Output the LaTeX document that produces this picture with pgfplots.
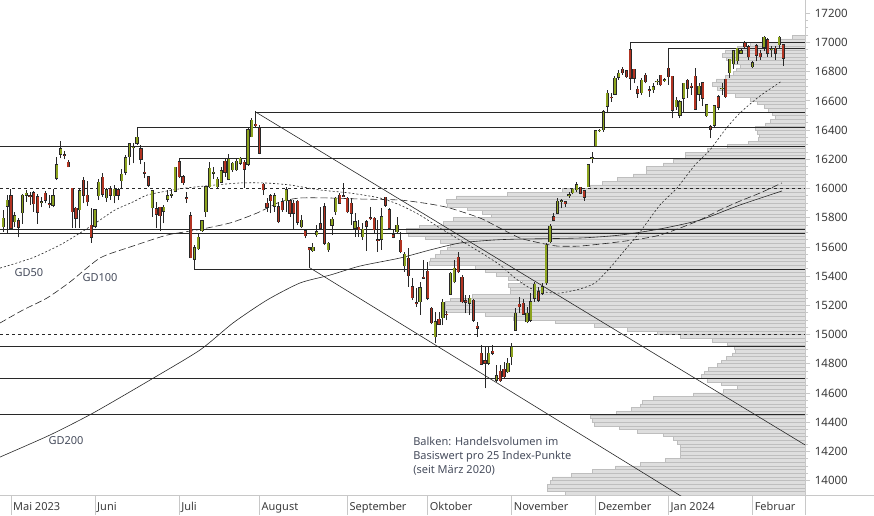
\documentclass[border=0pt]{standalone}
\usepackage{pgfplots}
\usepackage{pgfplotstable}
\pgfplotsset{compat=1.18}
\usepackage{fontspec}
\setmainfont{Noto Sans}
\definecolor{upc}{RGB}{140,163,30}
\definecolor{dnc}{RGB}{178,52,34}
\definecolor{volf}{RGB}{222,222,222}
\definecolor{vold}{RGB}{190,190,190}
\definecolor{axc}{RGB}{200,200,200}
\definecolor{lnc}{RGB}{40,40,40}
\definecolor{txc}{RGB}{60,60,60}
\definecolor{anc}{RGB}{70,76,92}

\pgfplotstableread{
n o h l c
0 15739 15853 15705 15796
1 15880 15955 15693 15921
2 15949 16000 15716 15727
3 15773 15842 15739 15812
4 15780 15796 15665 15734
5 15834 15960 15757 15955
6 15953 15990 15910 15967
7 15950 15978 15887 15945
8 15971 15985 15842 15894
9 15944 15962 15757 15837
10 15905 15944 15871 15910
11 15967 15983 15898 15921
12 15895 15956 15864 15892
13 15885 15994 15871 15949
14 16070 16218 16058 16161
15 16234 16325 16207 16271
16 16230 16259 16200 16228
17 16179 16195 16145 16150
18 16001 16001 15727 15841
19 15864 15870 15727 15796
20 15853 15995 15727 15983
21 16058 16081 15898 15955
22 15955 16054 15880 15910
23 15750 15864 15629 15666
24 15743 15857 15727 15853
25 15951 16063 15921 16042
26 16077 16108 15944 15962
27 15937 16001 15910 15990
28 15997 16015 15921 15955
29 15951 16024 15898 15994
30 15990 16001 15921 15955
31 16054 16131 15994 16097
32 16110 16229 16092 16210
33 16218 16314 16161 16305
34 16280 16309 16172 16284
35 16309 16419 16298 16350
36 16271 16298 16166 16200
37 16110 16184 16070 16104
38 16081 16081 16013 16024
39 15869 15990 15807 15983
40 15860 15910 15727 15823
41 15871 15871 15709 15814
42 15846 15887 15762 15871
43 15926 15990 15910 15949
44 15955 15997 15937 15962
45 15983 16150 15974 16145
46 16184 16207 16070 16081
47 16081 16092 16024 16040
48 15937 15974 15903 15930
49 15812 15837 15522 15526
50 15517 15613 15449 15595
51 15586 15686 15579 15666
52 15711 15784 15704 15780
53 15841 16017 15807 16013
54 16013 16184 16006 16138
55 16105 16150 16065 16112
56 16013 16081 16006 16065
57 16042 16150 16036 16120
58 16188 16207 16081 16111
59 16065 16234 16058 16202
60 16127 16184 16115 16172
61 16127 16207 16120 16188
62 16172 16218 16161 16207
63 16179 16195 16006 16131
64 16166 16412 16156 16401
65 16355 16485 16350 16469
66 16440 16528 16417 16430
67 16412 16435 16234 16241
68 16030 16036 15956 15990
69 15899 15933 15842 15871
70 15949 15963 15830 15917
71 15880 15967 15842 15949
72 15876 15910 15762 15773
73 15910 15933 15842 15853
74 15917 16013 15842 15990
75 15917 15926 15807 15830
76 15898 15921 15716 15830
77 15914 15921 15750 15768
78 15739 15819 15727 15784
79 15709 15709 15659 15677
80 15595 15595 15460 15579
81 15575 15625 15568 15597
82 15682 15750 15670 15705
83 15757 15876 15727 15727
84 15876 15899 15613 15625
85 15579 15636 15568 15625
86 15750 15807 15682 15789
87 15842 15944 15819 15933
88 15953 15967 15899 15899
89 15952 16036 15944 15946
90 15933 15944 15830 15842
91 15899 15933 15750 15830
92 15727 15830 15670 15773
93 15734 15784 15670 15716
94 15670 15761 15647 15720
95 15773 15784 15574 15743
96 15798 15876 15784 15794
97 15796 15807 15693 15716
98 15650 15784 15568 15645
99 15654 15864 15579 15807
100 15940 15944 15876 15887
101 15853 15864 15716 15727
102 15682 15716 15659 15666
103 15704 15807 15693 15750
104 15647 15704 15556 15567
105 15471 15567 15430 15549
106 15522 15590 15328 15403
107 15328 15385 15236 15252
108 15218 15316 15191 15212
109 15225 15362 15134 15321
110 15392 15510 15380 15386
111 15435 15499 15236 15248
112 15179 15191 15070 15081
113 14985 15156 14940 15088
114 15104 15156 15065 15070
115 15115 15243 15065 15220
116 15140 15161 15099 15136
117 15275 15430 15270 15419
118 15362 15510 15350 15453
119 15529 15567 15419 15430
120 15392 15408 15214 15225
121 15230 15270 15145 15222
122 15214 15270 15134 15248
123 15236 15243 15088 15099
124 15058 15088 14985 15042
125 14871 14928 14791 14796
126 14819 14917 14631 14803
127 14803 14917 14791 14871
128 14887 14928 14860 14871
129 14688 14791 14677 14718
130 14750 14791 14677 14682
131 14761 14814 14700 14711
132 14745 14837 14734 14803
133 14848 14940 14791 14917
134 15031 15179 15031 15145
135 15207 15259 15145 15191
136 15213 15243 15134 15138
137 15088 15191 15077 15145
138 15099 15282 15088 15225
139 15248 15362 15225 15344
140 15293 15328 15225 15236
141 15282 15350 15270 15328
142 15355 15625 15339 15613
143 15636 15760 15625 15743
144 15807 15830 15775 15784
145 15830 15937 15826 15914
146 15912 15926 15864 15916
147 15910 15914 15876 15894
148 15953 15974 15937 15957
149 15971 16001 15960 15994
150 15990 16042 15978 16024
151 16008 16008 15960 15967
152 15985 15985 15917 15939
153 16013 16161 16013 16161
154 16205 16252 16172 16209
155 16291 16401 16291 16396
156 16394 16405 16385 16398
157 16401 16540 16390 16526
158 16565 16675 16515 16652
159 16626 16652 16595 16622
160 16646 16772 16640 16754
161 16761 16812 16745 16789
162 16816 16835 16780 16793
163 16807 16812 16760 16766
164 16949 17003 16675 16754
165 16816 16816 16720 16754
166 16679 16700 16623 16652
167 16656 16760 16640 16743
168 16777 16789 16720 16732
169 16677 16702 16629 16673
170 16675 16720 16656 16697
171 16730 16750 16710 16734
172 16777 16780 16700 16709
173 16741 16755 16730 16745
174 16823 16960 16709 16766
175 16770 16770 16480 16537
176 16560 16629 16538 16606
177 16503 16606 16481 16594
178 16618 16720 16520 16720
179 16743 16750 16620 16686
180 16699 16720 16640 16695
181 16770 16823 16538 16542
182 16647 16720 16600 16700
183 16725 16732 16565 16617
184 16497 16578 16490 16572
185 16424 16435 16343 16405
186 16435 16570 16420 16565
187 16629 16640 16540 16556
188 16684 16720 16640 16688
189 16748 16750 16620 16629
190 16793 16890 16760 16885
191 16853 16950 16820 16944
192 16875 16965 16850 16960
193 16926 16955 16920 16942
194 16994 17010 16960 16971
195 16971 16980 16880 16903
196 16834 16870 16825 16860
197 16976 16990 16870 16914
198 16926 16950 16880 16903
199 16967 17045 16940 17035
200 17017 17030 16900 16926
201 16953 16975 16900 16957
202 16960 16975 16880 16926
203 16983 17045 16960 17035
204 16983 16990 16840 16891
}\candles

\pgfplotstableread{
p L
13900 240
13925 258
13950 258
13975 255
14000 253
14025 234
14050 213
14075 190
14100 165
14125 140
14150 125
14175 125
14200 125
14225 125
14250 128
14275 132
14300 142
14325 168
14350 186
14375 211
14400 213
14425 215
14450 189
14475 174
14500 165
14525 163
14550 152
14575 112
14600 82
14625 68
14650 84
14675 98
14700 104
14725 101
14750 97
14775 88
14800 84
14825 79
14850 73
14875 70
14900 71
14925 78
14950 93
14975 125
15000 148
15025 178
15050 211
15075 250
15100 292
15125 320
15150 360
15175 360
15200 360
15225 355
15250 333
15275 295
15300 295
15325 297
15350 283
15375 297
15400 309
15425 320
15450 330
15475 376
15500 375
15525 370
15550 365
15575 358
15600 355
15625 365
15650 380
15675 397
15700 399
15725 386
15750 362
15775 352
15800 314
15825 323
15850 338
15875 358
15900 359
15925 349
15950 298
15975 243
16000 215
16025 203
16050 188
16075 172
16100 159
16125 159
16150 142
16175 132
16200 120
16225 120
16250 98
16275 78
16300 57
16325 47
16350 46
16375 48
16400 50
16425 40
16450 35
16475 30
16500 33
16525 37
16550 41
16575 48
16600 55
16625 70
16650 80
16675 88
16700 93
16725 89
16750 80
16775 72
16800 69
16825 65
16850 72
16875 79
16900 83
16925 80
16950 68
16975 55
17000 25
17025 13
}\volume

\begin{document}
\begin{tikzpicture}
\useasboundingbox (0pt,-20pt) rectangle (874pt,495pt);
% volume profile
\begin{axis}[at={(0pt,0pt)}, anchor=south west, scale only axis,
  width=805.3pt, height=495pt,
  xmin=0, xmax=805.3, x dir=reverse, ymin=13901, ymax=17291,
  hide axis, xbar, bar width=25]
\addplot[fill=volf, draw=vold, line width=0.5pt] table[x=L, y expr=\thisrow{p}+12.5] {\volume};
\end{axis}
% main chart
\begin{axis}[at={(0pt,0pt)}, anchor=south west, scale only axis,
  width=805.3pt, height=495pt,
  xmin=-0.863, xmax=209.8, ymin=13901, ymax=17291,
  axis x line*=bottom, axis y line*=right,
  axis line style={axc, line width=0.9pt, -},
  xtick=\empty,
  ytick={14000,14200,...,17200}, minor y tick num=3,
  scaled y ticks=false,
  tick align=outside, major tick length=5pt, minor tick length=3pt,
  every tick/.style={axc, line width=0.8pt},
  yticklabel style={font=\fontsize{11.5}{13}\selectfont, text=txc, xshift=1pt,
    /pgf/number format/1000 sep={}, /pgf/number format/fixed},
  /pgf/number format/assume math mode=true,
  clip mode=individual]
% horizontal levels
\addplot[lnc, line width=0.8pt] coordinates {(-0.863,16286) (209.8,16286)};
\addplot[lnc, line width=0.8pt] coordinates {(46,16207) (209.8,16207)};
\addplot[lnc, line width=0.8pt] coordinates {(35,16419) (209.8,16419)};
\addplot[lnc, line width=0.8pt] coordinates {(66,16524) (209.8,16524)};
\addplot[lnc, line width=0.8pt] coordinates {(164,17003) (209.8,17003)};
\addplot[lnc, line width=0.8pt] coordinates {(174,16960) (209.8,16960)};
\addplot[lnc, line width=0.8pt] coordinates {(-0.863,15722) (209.8,15722)};
\addplot[lnc, line width=0.8pt] coordinates {(-0.863,15695) (209.8,15695)};
\addplot[lnc, line width=0.8pt] coordinates {(50,15449) (209.8,15449)};
\addplot[lnc, line width=0.8pt] coordinates {(-0.863,14917) (209.8,14917)};
\addplot[lnc, line width=0.8pt] coordinates {(-0.863,14700) (209.8,14700)};
\addplot[lnc, line width=0.8pt] coordinates {(-0.863,14453) (209.8,14453)};
\addplot[lnc, line width=0.8pt, dash pattern=on 3pt off 3pt] coordinates {(-0.863,16000) (209.8,16000)};
\addplot[lnc, line width=0.8pt, dash pattern=on 3pt off 3pt] coordinates {(-0.863,15000) (209.8,15000)};
% trend lines
\addplot[lnc, line width=0.6pt] coordinates {(66,16524) (209.8,14243)};
\addplot[lnc, line width=0.6pt] coordinates {(80,15460) (178,13882)};
% GD50
\addplot[lnc, line width=0.6pt, dash pattern=on 2pt off 2pt, smooth, tension=0.4] coordinates {
(-0.86,15455) (7.51,15524) (14.83,15613) (20.06,15695) (25.29,15784) (29.22,15853)
(33.93,15908) (37.59,15955) (42.82,15983) (47.53,16003) (55.38,16024) (61.92,16038)
(68.45,16038) (75.0,16024) (82.84,15990) (90.69,15969) (98.54,15935) (103.77,15887)
(109.0,15818) (114.23,15729) (119.46,15647) (124.69,15565) (129.93,15476) (133.85,15387)
(137.78,15318) (141.7,15291) (145.62,15284) (150.85,15312) (154.78,15353) (158.7,15456)
(162.62,15579) (166.54,15702) (171.77,15887) (176.22,16003) (180.93,16161) (184.86,16264)
(188.78,16401) (192.7,16517) (197.93,16634) (203.68,16736)};
% GD100
\addplot[lnc, line width=0.6pt, dash pattern=on 7pt off 3pt, smooth, tension=0.4] coordinates {
(-0.86,15079) (5.15,15168) (11.43,15250) (17.45,15360) (25.29,15524) (33.14,15599)
(42.82,15681) (50.67,15716) (59.3,15764) (66.36,15832) (72.38,15908) (77.61,15935)
(85.45,15935) (93.3,15928) (103.77,15921) (111.61,15894) (116.84,15866) (124.69,15798)
(129.93,15729) (135.15,15661) (140.4,15627) (144.83,15606) (150.85,15606) (158.7,15627)
(166.54,15654) (171.77,15681) (177.0,15729) (182.23,15784) (187.47,15853) (192.7,15914)
(197.93,15969) (203.68,16038)};
% GD200
\addplot[lnc, line width=0.6pt, smooth, tension=0.4] coordinates {
(-0.86,14161) (12.22,14312) (23.46,14462) (38.37,14688) (51.45,14894) (60.08,15079)
(68.98,15236) (77.61,15353) (85.45,15407) (93.3,15469) (103.77,15524) (111.61,15579)
(119.46,15627) (128.1,15647) (135.15,15654) (150.85,15661) (161.31,15681) (171.77,15723)
(182.23,15784) (192.7,15887) (203.68,15983)};
% candles: wicks
\addplot[lnc, line width=0.9pt, quiver={u=0, v=\thisrow{h}-\thisrow{l}}]
  table[x=n, y=l] {\candles};
% candles: body outline
\addplot[lnc, line width=3.2pt, quiver={u=0, v=abs(\thisrow{c}-\thisrow{o})+7}]
  table[x=n, y expr={min(\thisrow{o},\thisrow{c})-3.5}] {\candles};
% up bodies
\addplot[upc, line width=1.8pt, quiver={u=0, v=abs(\thisrow{c}-\thisrow{o})},
  restrict expr to domain={\thisrow{c}-\thisrow{o}}{0:100000}]
  table[x=n, y expr={min(\thisrow{o},\thisrow{c})}] {\candles};
% down bodies
\addplot[dnc, line width=1.8pt, quiver={u=0, v=abs(\thisrow{c}-\thisrow{o})},
  restrict expr to domain={\thisrow{c}-\thisrow{o}}{-100000:-0.5}]
  table[x=n, y expr={min(\thisrow{o},\thisrow{c})}] {\candles};
% labels
\node[font=\fontsize{11}{13}\selectfont, text=anc] at (axis cs:6.7,15421) {GD50};
\node[font=\fontsize{11}{13}\selectfont, text=anc] at (axis cs:25.3,15387) {GD100};
\node[font=\fontsize{11}{13}\selectfont, text=anc] at (axis cs:16.4,14271) {GD200};
\node[font=\fontsize{11}{14}\selectfont, text=anc, anchor=north west, align=left, inner sep=0pt]
  at (axis cs:107.2,14298) {Balken: Handelsvolumen im\\Basiswert pro 25 Index-Punkte\\(seit März 2020)};
% month separators
\draw[axc, line width=0.8pt] (axis cs:2,13901) -- ++(0pt,-20pt);
\draw[axc, line width=0.8pt] (axis cs:24,13901) -- ++(0pt,-20pt);
\draw[axc, line width=0.8pt] (axis cs:46,13901) -- ++(0pt,-20pt);
\draw[axc, line width=0.8pt] (axis cs:67,13901) -- ++(0pt,-20pt);
\draw[axc, line width=0.8pt] (axis cs:90,13901) -- ++(0pt,-20pt);
\draw[axc, line width=0.8pt] (axis cs:111,13901) -- ++(0pt,-20pt);
\draw[axc, line width=0.8pt] (axis cs:133,13901) -- ++(0pt,-20pt);
\draw[axc, line width=0.8pt] (axis cs:155,13901) -- ++(0pt,-20pt);
\draw[axc, line width=0.8pt] (axis cs:174,13901) -- ++(0pt,-20pt);
\draw[axc, line width=0.8pt] (axis cs:196,13901) -- ++(0pt,-20pt);
\draw[axc, line width=0.9pt] (axis cs:209.8,13901) -- ++(0pt,-20pt);
\draw[axc, line width=0.9pt] (axis cs:209.8,13901) -- ++(70pt,0pt);
\tikzset{mlab/.style={font=\fontsize{11}{13}\selectfont, text=txc, anchor=base west, inner sep=0pt, xshift=2pt, yshift=-15.5pt}}
\node[mlab] at (axis cs:2,13901) {Mai 2023};
\node[mlab] at (axis cs:24,13901) {Juni};
\node[mlab] at (axis cs:46,13901) {Juli};
\node[mlab] at (axis cs:67,13901) {August};
\node[mlab] at (axis cs:90,13901) {September};
\node[mlab] at (axis cs:111,13901) {Oktober};
\node[mlab] at (axis cs:133,13901) {November};
\node[mlab] at (axis cs:155,13901) {Dezember};
\node[mlab] at (axis cs:174,13901) {Jan 2024};
\node[mlab] at (axis cs:196,13901) {Februar};
\end{axis}
\end{tikzpicture}
\end{document}
